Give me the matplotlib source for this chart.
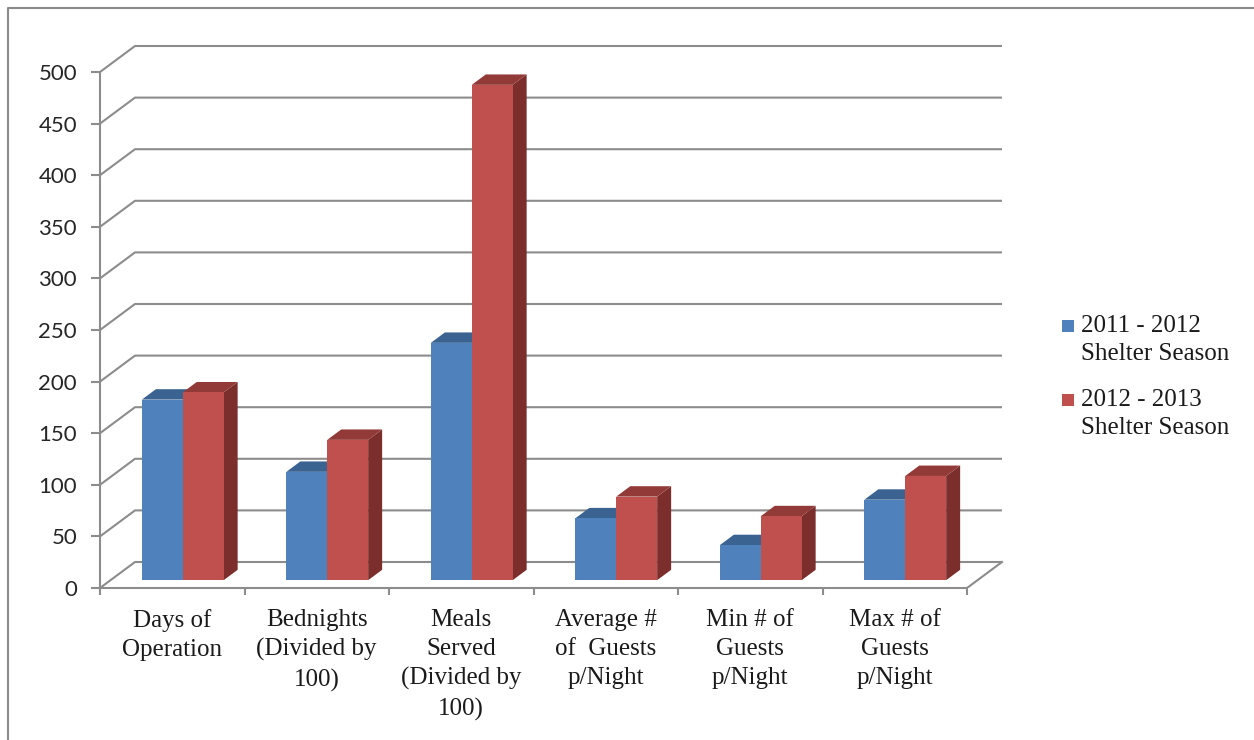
import matplotlib
matplotlib.use("Agg")
import matplotlib.pyplot as plt
from matplotlib.patches import Polygon, Rectangle
from matplotlib.lines import Line2D

# ---- data ----
categories = [
    "Days of\nOperation",
    "Bednights\n(Divided by\n100)",
    "Meals\nServed\n(Divided by\n100)",
    "Average #\nof  Guests\np/Night",
    "Min # of\nGuests\np/Night",
    "Max # of\nGuests\np/Night",
]
season_2011_2012 = [175, 105, 230, 60, 34, 78]
season_2012_2013 = [182, 136, 480, 81, 62, 101]
series_labels = ["2011 - 2012\nShelter Season", "2012 - 2013\nShelter Season"]
y_ticks = list(range(0, 501, 50))

# ---- styling ----
W, H = 1254, 740
PX_X = 144.5          # pixels per category
PX_Y = 1.032          # pixels per value unit
DX = 35 / PX_X        # oblique depth offset (category units)
DY = 26 / PX_Y        # oblique depth offset (value units)
Z0, Z1 = 0.3, 0.7     # bar depth span
BAR_W = 0.283
BAR_START = 0.217
GRID = "#8c8c8c"
face_cols = [("#4f81bd", "#3a6391", "#385d8a"),
             ("#c0504d", "#923a37", "#7c2e2c")]

fig = plt.figure(figsize=(W / 100, H / 100), dpi=100)
ax = fig.add_axes([100 / W, 152 / H, 6.3 * PX_X / W, 530 * PX_Y / H])
ax.set_xlim(0, 6.3)
ax.set_ylim(0, 530)

n = len(categories)

# back wall and side wall gridlines
for v in y_ticks:
    ax.plot([0, DX, n + DX], [v, v + DY, v + DY], color=GRID, lw=1.5,
            zorder=1, solid_capstyle="butt")
# right edge of the floor
ax.plot([n, n + DX], [0, DY], color=GRID, lw=1.5, zorder=1)

# 3D-looking columns
series = [season_2011_2012, season_2012_2013]
for i in range(n):
    for s, vals in enumerate(series):
        v = vals[i]
        front, top, side = face_cols[s]
        x0 = i + BAR_START + s * BAR_W
        x1 = x0 + BAR_W
        fx0, fx1 = x0 + Z0 * DX, x1 + Z0 * DX
        bx0, bx1 = x0 + Z1 * DX, x1 + Z1 * DX
        yb0, yb1 = Z0 * DY, Z1 * DY
        ax.add_patch(Polygon([(fx1, yb0), (bx1, yb1), (bx1, yb1 + v), (fx1, yb0 + v)],
                             closed=True, facecolor=side, edgecolor="none", zorder=3 + s))
        ax.add_patch(Polygon([(fx0, yb0 + v), (fx1, yb0 + v), (bx1, yb1 + v), (bx0, yb1 + v)],
                             closed=True, facecolor=top, edgecolor="none", zorder=3 + s))
        ax.bar(fx0, v, width=BAR_W, bottom=yb0, align="edge", color=front,
               edgecolor="none", zorder=3 + s)

# axes spines / ticks
for sp in ["top", "right"]:
    ax.spines[sp].set_visible(False)
for sp in ["left", "bottom"]:
    ax.spines[sp].set_color(GRID)
    ax.spines[sp].set_linewidth(1.5)
ax.spines["left"].set_bounds(0, 500)
ax.spines["bottom"].set_bounds(0, n)

ax.set_yticks(y_ticks)
ax.set_yticklabels([str(t) for t in y_ticks], fontfamily="Lato", fontsize=16,
                   color="#262626")
ax.tick_params(axis="y", length=6.5, width=1.5, color=GRID, pad=10)

ax.set_xticks(range(n + 1))
ax.set_xticklabels([""] * (n + 1))
ax.tick_params(axis="x", which="major", length=5, width=1.5, color=GRID)
ax.set_xticks([i + 0.5 for i in range(n)], minor=True)
ax.set_xticklabels(categories, minor=True, fontfamily="Liberation Serif",
                   fontsize=18, color="#1a1a1a", linespacing=1.42)
ax.tick_params(axis="x", which="minor", length=0, pad=15)

# legend
entries_top = [320, 394]
for s, lab in enumerate(series_labels):
    yt = entries_top[s]
    fig.add_artist(Rectangle((1062 / W, 1 - (yt + 12) / H), 12 / W, 12 / H,
                             transform=fig.transFigure,
                             facecolor=face_cols[s][0], edgecolor="none"))
    fig.text(1081 / W, 1 - (yt - 5) / H, lab, ha="left", va="top",
             fontfamily="Liberation Serif", fontsize=18, color="#1a1a1a",
             linespacing=1.38)

# chart area border
fig.add_artist(Line2D([8 / W, 8 / W, 1.0], [0.0, 1 - 8 / H, 1 - 8 / H],
                      transform=fig.transFigure, color="#8a8a8a", lw=1.5))

fig.savefig("out.png", dpi=100)
